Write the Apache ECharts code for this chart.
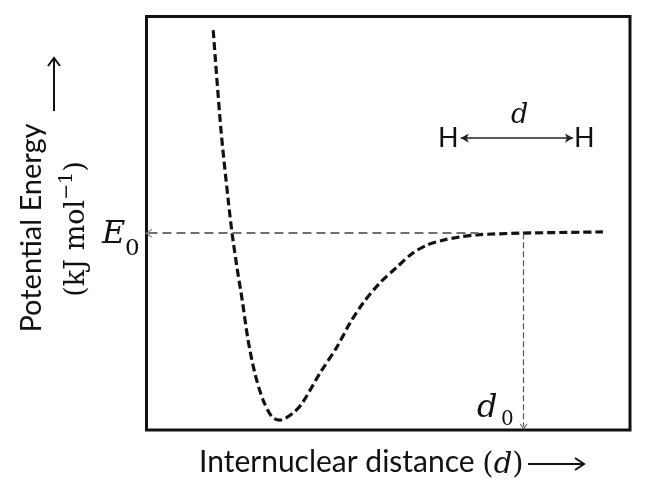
<!DOCTYPE html>
<html>
<head>
<meta charset="utf-8">
<script src="https://cdn.jsdelivr.net/npm/echarts@6/dist/echarts.min.js"></script>
<style>
  html, body { margin: 0; padding: 0; background: #fff; }
  #main { width: 650px; height: 480px; }
</style>
</head>
<body>
<div id="main"></div>
<script>
// potential energy curve, arbitrary units (x: 0..100, y: 0..100)
var distX   = [13.8, 15.4, 16.9, 17.7, 18.7, 19.8, 21.0, 22.4, 24.1, 26.0, 27.6, 30.3, 32.2, 35.9, 39.4, 42.1, 44.8, 48.3, 51.8, 55.1, 58.0, 61.3, 64.8, 68.3, 77.3, 94.4];
var energyY = [96.7, 72.6, 55.6, 47.6, 39.4, 31.4, 21.8, 13.8, 7.3, 3.1, 2.4, 4.1, 6.5, 13.8, 20.1, 25.9, 30.7, 35.6, 39.4, 42.8, 44.7, 45.9, 46.7, 47.2, 47.6, 47.9];

// reference levels
var E0 = 47.6;
var d0 = 78;
var eLineEnd = 68.7;   // where the grey E0 guide stops
var dLineEnd = 0.8;    // where the d0 guide arrow ends
// H <-> H arrow
var hArrowX = [65.0, 88.2];
var hArrowY = 70.6;

var chevron = 'path://M0,10 L5,0 L10,10 L8.6,10 L5,3 L1.4,10 Z';

var myChart = echarts.init(document.getElementById('main'));

myChart.setOption({
  animation: false,
  grid: {
    left: 146.5, top: 16.5, right: 20, bottom: 50,
    show: true, borderColor: '#111', borderWidth: 3, backgroundColor: 'transparent'
  },
  xAxis: {
    type: 'value', min: 0, max: 100,
    axisLine: { show: false }, axisTick: { show: false },
    axisLabel: { show: false }, splitLine: { show: false }
  },
  yAxis: {
    type: 'value', min: 0, max: 100,
    axisLine: { show: false }, axisTick: { show: false },
    axisLabel: { show: false }, splitLine: { show: false }
  },
  series: [
    {
      type: 'line',
      data: distX.map(function (x, i) { return [x, energyY[i]]; }),
      smooth: 0.3,
      showSymbol: false,
      lineStyle: { color: '#111', width: 3.2, type: [8, 4] },
      z: 3
    },
    {
      // guide lines and the H-H arrow
      type: 'line',
      data: [],
      markLine: {
        silent: true,
        animation: false,
        label: { show: false },
        data: [
          [
            { coord: [0.4, E0], symbol: chevron, symbolSize: [9, 7],
              lineStyle: { color: '#707070', width: 2.2, type: [9, 5] } },
            { coord: [eLineEnd, E0], symbol: 'none' }
          ],
          [
            { coord: [d0, E0], symbol: 'none',
              lineStyle: { color: '#555', width: 1.2, type: [6, 3] } },
            { coord: [d0, dLineEnd], symbol: chevron, symbolSize: [8, 6] }
          ],
          [
            { coord: [hArrowX[0], hArrowY], symbol: 'arrow', symbolSize: [7, 8],
              lineStyle: { color: '#222', width: 1.6, type: 'solid' } },
            { coord: [hArrowX[1], hArrowY], symbol: 'arrow', symbolSize: [7, 8] }
          ]
        ]
      }
    }
  ]
});

// labels around the frame
var serifMath = '"DejaVu Serif", "Liberation Serif", serif';
var sans = 'Lato, "Open Sans", sans-serif';

myChart.setOption({
  graphic: [
    // y axis title (two rotated lines)
    { type: 'text', x: 32, y: 228, rotation: Math.PI / 2,
      style: { text: 'Potential Energy', font: '29px ' + sans, fill: '#111', align: 'center', verticalAlign: 'middle' } },
    { type: 'text', x: 74, y: 229, rotation: Math.PI / 2,
      style: {
        text: '{a|(kJ mol}{b|\u22121}{a|)}',
        align: 'center', verticalAlign: 'middle',
        rich: {
          a: { font: '27px ' + serifMath, fill: '#111', lineHeight: 32, verticalAlign: 'bottom' },
          b: { font: '19px ' + serifMath, fill: '#111', lineHeight: 32, verticalAlign: 'top' }
        }
      } },
    // up arrow beside the y title
    { type: 'line', shape: { x1: 54, y1: 111, x2: 54, y2: 58 }, style: { stroke: '#111', lineWidth: 2 } },
    { type: 'polyline', shape: { points: [[48, 66], [54, 58], [60, 66]] }, style: { stroke: '#111', lineWidth: 2, fill: null } },

    // E0
    { type: 'text', x: 102, y: 251, style: { text: 'E', font: 'italic 32px ' + serifMath, fill: '#111', align: 'left', verticalAlign: 'bottom' } },
    { type: 'text', x: 125, y: 261, style: { text: '0', font: '23px ' + serifMath, fill: '#111', align: 'left', verticalAlign: 'bottom' } },

    // d0
    { type: 'text', x: 477, y: 425, style: { text: 'd', font: 'italic 32px ' + serifMath, fill: '#111', align: 'left', verticalAlign: 'bottom' } },
    { type: 'text', x: 501, y: 430, style: { text: '0', font: '20px ' + serifMath, fill: '#111', align: 'left', verticalAlign: 'bottom' } },

    // H <-> H
    { type: 'text', x: 438, y: 152, style: { text: 'H', font: '27px ' + sans, fill: '#111', align: 'left', verticalAlign: 'bottom' } },
    { type: 'text', x: 574, y: 152, style: { text: 'H', font: '27px ' + sans, fill: '#111', align: 'left', verticalAlign: 'bottom' } },
    { type: 'text', x: 511, y: 129, style: { text: 'd', font: 'italic 27px ' + serifMath, fill: '#111', align: 'left', verticalAlign: 'bottom' } },

    // x axis title
    { type: 'text', x: 199, y: 462,
      style: {
        text: '{s|Internuclear distance }{m|(}{i|d}{m|)}',
        verticalAlign: 'middle', align: 'left',
        rich: {
          s: { font: '30px ' + sans, fill: '#111', lineHeight: 36 },
          m: { font: '29px ' + serifMath, fill: '#111', lineHeight: 36, padding: [6, 0, 0, 0] },
          i: { font: 'italic 29px ' + serifMath, fill: '#111', lineHeight: 36, padding: [6, 0, 0, 0] }
        }
      } },
    { type: 'line', shape: { x1: 528, y1: 464, x2: 584, y2: 464 }, style: { stroke: '#111', lineWidth: 2 } },
    { type: 'polyline', shape: { points: [[575, 458], [584, 464], [575, 470]] }, style: { stroke: '#111', lineWidth: 2, fill: null } }
  ]
});
</script>
</body>
</html>
